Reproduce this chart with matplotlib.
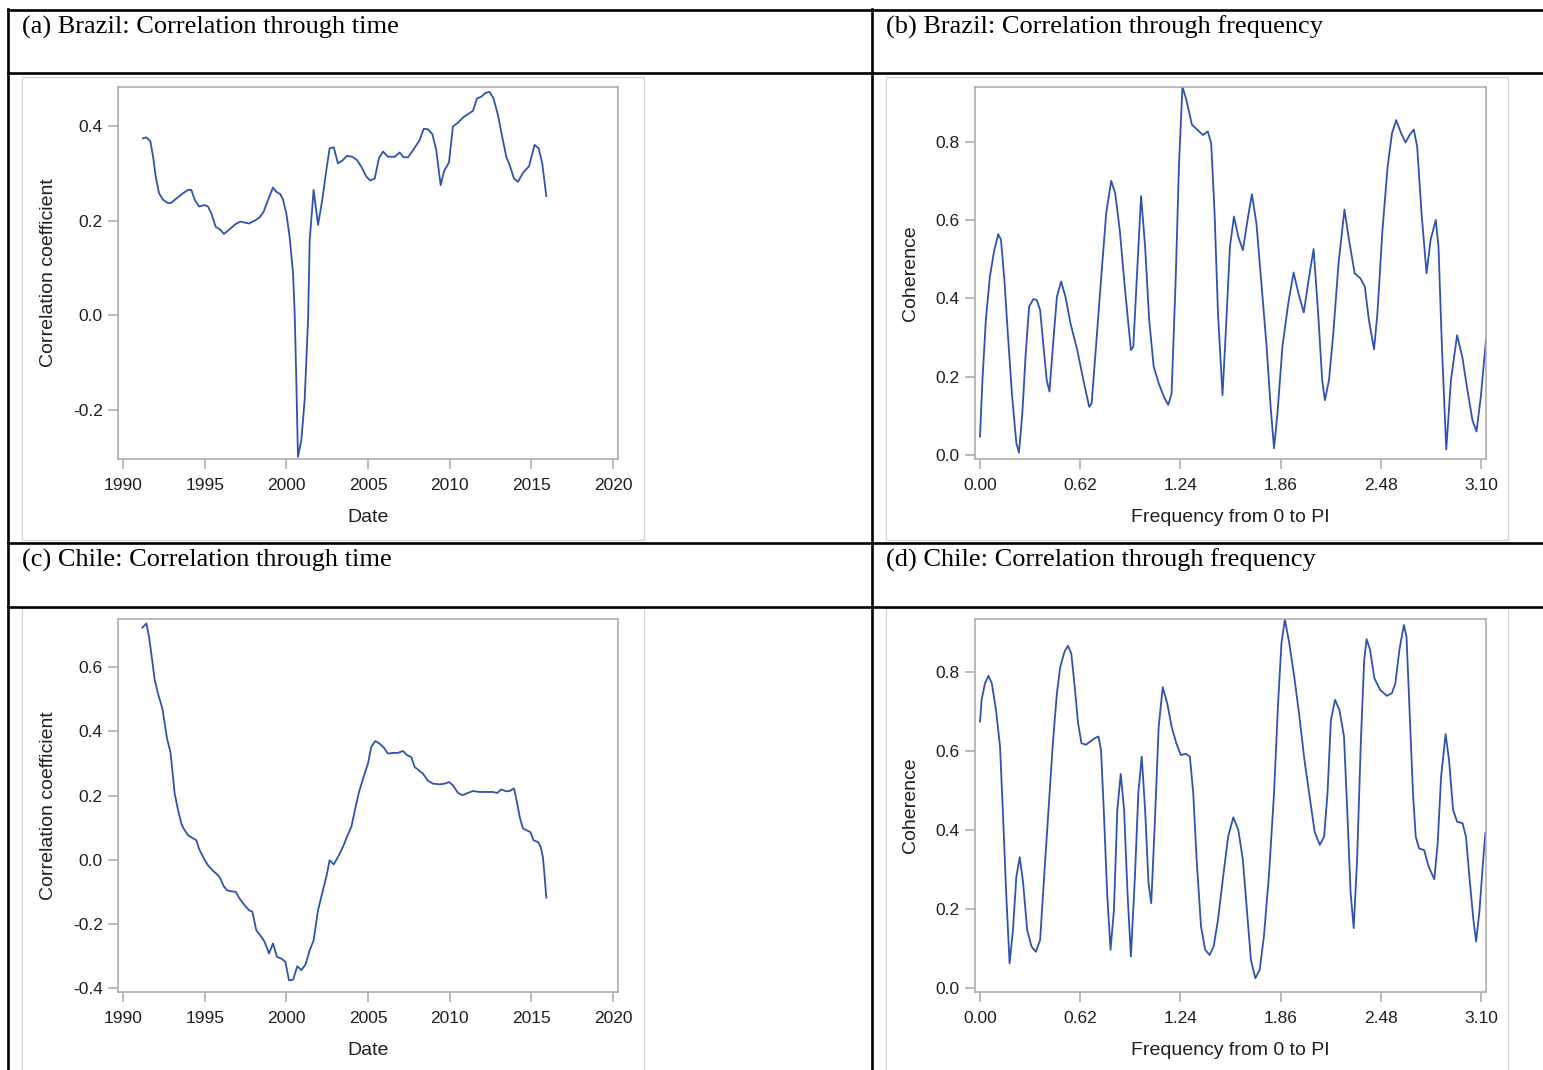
import matplotlib
matplotlib.use("Agg")
import matplotlib.pyplot as plt
from matplotlib.lines import Line2D
from matplotlib.patches import Rectangle

plt.rcParams["font.family"] = ["Liberation Sans", "DejaVu Sans"]
plt.rcParams["axes.unicode_minus"] = False

W, H = 1543, 1070

# (a) Brazil, correlation through time
brazil_year = [1991.22, 1991.43, 1991.67, 1991.84, 1992.00, 1992.20, 1992.45, 1992.76, 1992.96,
               1993.27, 1993.67, 1993.98, 1994.18, 1994.39, 1994.65, 1995.00, 1995.20, 1995.41,
               1995.67, 1995.92, 1996.18, 1996.53, 1996.90, 1997.18, 1997.45, 1997.71, 1998.06,
               1998.37, 1998.61, 1998.88, 1999.18, 1999.39, 1999.63, 1999.80, 2000.00, 2000.20,
               2000.41, 2000.51, 2000.61, 2000.71, 2000.92, 2001.12, 2001.33, 2001.43, 2001.67,
               2001.94, 2002.20, 2002.45, 2002.65, 2002.90, 2003.16, 2003.43, 2003.71, 2004.04,
               2004.33, 2004.59, 2004.90, 2005.14, 2005.41, 2005.67, 2005.92, 2006.22, 2006.63,
               2006.94, 2007.18, 2007.45, 2007.76, 2008.16, 2008.41, 2008.67, 2008.94, 2009.18,
               2009.45, 2009.65, 2009.96, 2010.20, 2010.51, 2010.82, 2011.12, 2011.43, 2011.67,
               2011.94, 2012.20, 2012.45, 2012.69, 2012.96, 2013.22, 2013.47, 2013.67, 2013.94,
               2014.18, 2014.49, 2014.86, 2015.20, 2015.45, 2015.67, 2015.92]
brazil_corr = [0.374, 0.376, 0.368, 0.335, 0.293, 0.258, 0.244, 0.237, 0.238,
               0.247, 0.258, 0.265, 0.265, 0.244, 0.230, 0.233, 0.230, 0.215,
               0.187, 0.182, 0.172, 0.182, 0.193, 0.198, 0.196, 0.194, 0.200,
               0.207, 0.219, 0.244, 0.270, 0.261, 0.256, 0.244, 0.215, 0.166,
               0.089, 0.004, -0.137, -0.299, -0.263, -0.179, -0.010, 0.159, 0.265,
               0.191, 0.244, 0.307, 0.353, 0.355, 0.321, 0.327, 0.337, 0.335,
               0.328, 0.314, 0.293, 0.285, 0.289, 0.332, 0.346, 0.335, 0.335,
               0.344, 0.334, 0.334, 0.349, 0.370, 0.394, 0.393, 0.383, 0.349,
               0.275, 0.304, 0.323, 0.399, 0.407, 0.418, 0.425, 0.432, 0.458,
               0.462, 0.470, 0.472, 0.458, 0.423, 0.377, 0.335, 0.318, 0.289,
               0.282, 0.301, 0.315, 0.360, 0.353, 0.321, 0.252]

# (b) Brazil, coherence
brazil_freq = [0.000, 0.015, 0.036, 0.061, 0.088, 0.113, 0.130, 0.151, 0.172, 0.199, 0.225, 0.241,
               0.262, 0.283, 0.304, 0.330, 0.351, 0.372, 0.393, 0.413, 0.430, 0.451, 0.476, 0.502,
               0.529, 0.560, 0.602, 0.644, 0.676, 0.691, 0.718, 0.749, 0.781, 0.812, 0.837, 0.865,
               0.896, 0.934, 0.949, 0.970, 0.997, 1.022, 1.047, 1.075, 1.106, 1.138, 1.165, 1.186,
               1.211, 1.232, 1.253, 1.278, 1.312, 1.347, 1.379, 1.410, 1.431, 1.452, 1.473, 1.501,
               1.522, 1.547, 1.572, 1.599, 1.627, 1.656, 1.683, 1.711, 1.740, 1.774, 1.799, 1.820,
               1.841, 1.872, 1.908, 1.941, 1.971, 2.004, 2.034, 2.065, 2.093, 2.118, 2.135, 2.160,
               2.187, 2.219, 2.256, 2.281, 2.319, 2.355, 2.382, 2.407, 2.439, 2.460, 2.491, 2.523,
               2.550, 2.576, 2.607, 2.634, 2.659, 2.685, 2.706, 2.733, 2.764, 2.789, 2.821, 2.838,
               2.859, 2.886, 2.915, 2.953, 2.985, 3.017, 3.048, 3.073, 3.100, 3.132]
brazil_coh = [0.047, 0.190, 0.345, 0.455, 0.523, 0.564, 0.549, 0.447, 0.311, 0.149, 0.030, 0.006,
              0.106, 0.260, 0.379, 0.398, 0.396, 0.370, 0.277, 0.191, 0.162, 0.277, 0.404, 0.443,
              0.404, 0.336, 0.268, 0.183, 0.123, 0.132, 0.277, 0.447, 0.617, 0.700, 0.668, 0.574,
              0.430, 0.268, 0.277, 0.447, 0.661, 0.532, 0.345, 0.226, 0.183, 0.149, 0.128, 0.157,
              0.447, 0.745, 0.940, 0.906, 0.843, 0.830, 0.817, 0.826, 0.796, 0.617, 0.362, 0.153,
              0.319, 0.532, 0.609, 0.557, 0.523, 0.600, 0.666, 0.591, 0.447, 0.277, 0.123, 0.017,
              0.106, 0.277, 0.387, 0.466, 0.413, 0.364, 0.447, 0.526, 0.362, 0.191, 0.140, 0.191,
              0.311, 0.489, 0.627, 0.557, 0.464, 0.451, 0.430, 0.345, 0.270, 0.362, 0.574, 0.736,
              0.821, 0.855, 0.821, 0.798, 0.817, 0.831, 0.787, 0.617, 0.464, 0.549, 0.600, 0.532,
              0.277, 0.014, 0.191, 0.306, 0.251, 0.166, 0.089, 0.060, 0.149, 0.294]

# (c) Chile, correlation through time
chile_year = [1991.18, 1991.43, 1991.59, 1991.73, 1991.94, 1992.14, 1992.41, 1992.55, 1992.69,
              1992.90, 1993.06, 1993.16, 1993.37, 1993.57, 1993.71, 1993.98, 1994.29, 1994.49,
              1994.65, 1994.90, 1995.20, 1995.51, 1995.82, 1995.96, 1996.16, 1996.37, 1996.63,
              1996.90, 1997.14, 1997.45, 1997.71, 1997.92, 1998.16, 1998.47, 1998.67, 1998.94,
              1999.18, 1999.43, 1999.69, 1999.94, 2000.16, 2000.41, 2000.67, 2000.92, 2001.18,
              2001.43, 2001.67, 2001.94, 2002.24, 2002.49, 2002.65, 2002.90, 2003.16, 2003.47,
              2003.71, 2003.98, 2004.24, 2004.45, 2004.73, 2005.00, 2005.20, 2005.45, 2005.71,
              2005.96, 2006.22, 2006.53, 2006.84, 2007.14, 2007.39, 2007.65, 2007.86, 2008.06,
              2008.37, 2008.67, 2008.98, 2009.39, 2009.69, 2009.96, 2010.20, 2010.51, 2010.78,
              2011.12, 2011.43, 2011.84, 2012.25, 2012.65, 2012.92, 2013.16, 2013.47, 2013.67,
              2013.94, 2014.12, 2014.29, 2014.49, 2014.69, 2014.94, 2015.14, 2015.41, 2015.57,
              2015.71, 2015.82, 2015.92]
chile_corr = [0.724, 0.737, 0.695, 0.643, 0.560, 0.518, 0.471, 0.425, 0.378,
              0.336, 0.258, 0.206, 0.154, 0.112, 0.097, 0.076, 0.066, 0.060,
              0.034, 0.008, -0.018, -0.035, -0.049, -0.059, -0.083, -0.096, -0.099,
              -0.101, -0.122, -0.143, -0.158, -0.163, -0.221, -0.241, -0.257, -0.293,
              -0.262, -0.304, -0.309, -0.319, -0.377, -0.375, -0.333, -0.345, -0.327,
              -0.283, -0.252, -0.158, -0.096, -0.044, -0.002, -0.015, 0.008, 0.040,
              0.071, 0.102, 0.164, 0.211, 0.258, 0.300, 0.352, 0.370, 0.362,
              0.350, 0.331, 0.333, 0.333, 0.339, 0.326, 0.320, 0.289, 0.281,
              0.268, 0.246, 0.237, 0.235, 0.237, 0.242, 0.232, 0.208, 0.201,
              0.208, 0.214, 0.211, 0.211, 0.211, 0.208, 0.219, 0.213, 0.214,
              0.222, 0.180, 0.133, 0.097, 0.092, 0.086, 0.060, 0.055, 0.040,
              0.008, -0.054, -0.119]

# (d) Chile, coherence
chile_freq = [0.000, 0.010, 0.031, 0.052, 0.073, 0.099, 0.124, 0.141, 0.162, 0.183, 0.204, 0.225,
              0.246, 0.267, 0.292, 0.319, 0.346, 0.372, 0.397, 0.424, 0.451, 0.476, 0.497, 0.523,
              0.544, 0.565, 0.586, 0.607, 0.628, 0.655, 0.682, 0.712, 0.733, 0.749, 0.766, 0.787,
              0.808, 0.829, 0.850, 0.871, 0.892, 0.913, 0.934, 0.959, 0.980, 1.001, 1.022, 1.043,
              1.060, 1.081, 1.106, 1.131, 1.159, 1.186, 1.215, 1.243, 1.274, 1.299, 1.320, 1.341,
              1.368, 1.394, 1.421, 1.446, 1.473, 1.505, 1.536, 1.568, 1.599, 1.627, 1.652, 1.677,
              1.704, 1.731, 1.757, 1.788, 1.820, 1.845, 1.866, 1.887, 1.914, 1.945, 1.977, 2.008,
              2.040, 2.071, 2.103, 2.130, 2.151, 2.172, 2.198, 2.225, 2.253, 2.273, 2.294, 2.313,
              2.334, 2.357, 2.378, 2.393, 2.414, 2.441, 2.477, 2.519, 2.550, 2.571, 2.596, 2.624,
              2.640, 2.659, 2.680, 2.697, 2.718, 2.749, 2.777, 2.812, 2.833, 2.854, 2.882, 2.903,
              2.928, 2.953, 2.987, 3.008, 3.029, 3.054, 3.071, 3.092, 3.113, 3.128]
chile_coh = [0.675, 0.730, 0.772, 0.791, 0.772, 0.704, 0.611, 0.451, 0.240, 0.062, 0.146, 0.282,
             0.331, 0.265, 0.146, 0.104, 0.091, 0.121, 0.282, 0.451, 0.620, 0.747, 0.814, 0.852,
             0.867, 0.848, 0.764, 0.671, 0.620, 0.616, 0.624, 0.633, 0.637, 0.603, 0.451, 0.240,
             0.096, 0.197, 0.451, 0.542, 0.451, 0.240, 0.079, 0.282, 0.493, 0.586, 0.451, 0.265,
             0.214, 0.408, 0.662, 0.762, 0.721, 0.662, 0.620, 0.590, 0.593, 0.586, 0.493, 0.324,
             0.155, 0.096, 0.083, 0.104, 0.172, 0.282, 0.383, 0.432, 0.400, 0.324, 0.197, 0.070,
             0.024, 0.045, 0.129, 0.282, 0.493, 0.721, 0.874, 0.934, 0.874, 0.789, 0.688, 0.578,
             0.485, 0.396, 0.362, 0.383, 0.493, 0.679, 0.730, 0.704, 0.637, 0.451, 0.240, 0.151,
             0.324, 0.620, 0.831, 0.884, 0.857, 0.785, 0.755, 0.740, 0.747, 0.772, 0.857, 0.920,
             0.890, 0.704, 0.493, 0.383, 0.353, 0.349, 0.307, 0.275, 0.366, 0.535, 0.643, 0.578,
             0.451, 0.421, 0.417, 0.383, 0.282, 0.172, 0.117, 0.197, 0.315, 0.392]

titles = ["(a) Brazil: Correlation through time",
          "(b) Brazil: Correlation through frequency",
          "(c) Chile: Correlation through time",
          "(d) Chile: Correlation through frequency"]

year_ticks = [1990, 1995, 2000, 2005, 2010, 2015, 2020]
freq_ticks = [0.00, 0.62, 1.24, 1.86, 2.48, 3.10]
freq_labels = ["0.00", "0.62", "1.24", "1.86", "2.48", "3.10"]

LINE = "#2f53ae"
AXC = "#a8a8a8"

fig = plt.figure(figsize=(W / 100, H / 100), dpi=100)
fig.patch.set_facecolor("white")


def fx(x):
    return x / W


def fy(y):
    return 1 - y / H


def add_ax(x0, y0, x1, y1):
    return fig.add_axes([fx(x0), fy(y1), (x1 - x0) / W, (y1 - y0) / H])


def box(x0, y0, x1, y1):
    fig.add_artist(Rectangle((fx(x0), fy(y1)), (x1 - x0) / W, (y1 - y0) / H,
                             transform=fig.transFigure, fill=False, ec="#d6d6d6", lw=0.9))


def rule(xs, ys):
    fig.add_artist(Line2D([fx(x) for x in xs], [fy(y) for y in ys],
                          transform=fig.transFigure, color="black", lw=1.9))


# table rules
rule([8, W], [10, 10])
rule([8, W], [73, 73])
rule([8, W], [543, 543])
rule([8, W], [606.5, 606.5])
rule([8, 8], [9, H])
rule([872, 872], [9, H])

# picture frames
box(22, 77, 644, 540)
box(886, 77, 1508, 540)
box(22, 608, 644, 1075)
box(886, 608, 1508, 1075)

for (tx, ty), t in zip([(22, 33.5), (886, 33.5), (22, 567), (886, 567)], titles):
    fig.text(fx(tx), fy(ty), t, ha="left", va="baseline", fontsize=19,
             family=["Liberation Serif", "DejaVu Serif"], color="black")


def style(ax):
    for s in ax.spines.values():
        s.set_color(AXC)
        s.set_linewidth(1.1)
    ax.tick_params(axis="both", direction="out", length=7, width=1.1, color=AXC,
                   labelsize=12.5, labelcolor="#1f1f1f")
    ax.tick_params(axis="x", pad=7)
    ax.tick_params(axis="y", pad=4)


# (a)
ax = add_ax(118, 87, 618, 459)
ax.plot(brazil_year, brazil_corr, color=LINE, lw=1.3)
ax.set_xlim(1989.69, 2020.31)
ax.set_ylim(-0.3035, 0.4824)
ax.set_xticks(year_ticks)
ax.set_yticks([-0.2, 0.0, 0.2, 0.4])
ax.set_yticklabels(["-0.2", "0.0", "0.2", "0.4"])
ax.set_xlabel("Date", fontsize=14, color="#1f1f1f")
ax.set_ylabel("Correlation coefficient", fontsize=14, color="#1f1f1f")
ax.xaxis.set_label_coords(0.5, -0.134)
ax.yaxis.set_label_coords(-0.122, 0.5)
style(ax)

# (b)
ax = add_ax(975, 87, 1486, 459)
ax.plot(brazil_freq, brazil_coh, color=LINE, lw=1.3)
ax.set_xlim(-0.031, 3.132)
ax.set_ylim(-0.0102, 0.9396)
ax.set_xticks(freq_ticks)
ax.set_xticklabels(freq_labels)
ax.set_yticks([0.0, 0.2, 0.4, 0.6, 0.8])
ax.set_yticklabels(["0.0", "0.2", "0.4", "0.6", "0.8"])
ax.set_xlabel("Frequency from 0 to PI", fontsize=14, color="#1f1f1f")
ax.set_ylabel("Coherence", fontsize=14, color="#1f1f1f")
ax.xaxis.set_label_coords(0.5, -0.134)
ax.yaxis.set_label_coords(-0.109, 0.5)
style(ax)

# (c)
ax = add_ax(118, 619, 618, 992)
ax.plot(chile_year, chile_corr, color=LINE, lw=1.3)
ax.set_xlim(1989.69, 2020.31)
ax.set_ylim(-0.4134, 0.751)
ax.set_xticks(year_ticks)
ax.set_yticks([-0.4, -0.2, 0.0, 0.2, 0.4, 0.6])
ax.set_yticklabels(["-0.4", "-0.2", "0.0", "0.2", "0.4", "0.6"])
ax.set_xlabel("Date", fontsize=14, color="#1f1f1f")
ax.set_ylabel("Correlation coefficient", fontsize=14, color="#1f1f1f")
ax.xaxis.set_label_coords(0.5, -0.134)
ax.yaxis.set_label_coords(-0.122, 0.5)
style(ax)

# (d)
ax = add_ax(975, 619, 1486, 992)
ax.plot(chile_freq, chile_coh, color=LINE, lw=1.3)
ax.set_xlim(-0.031, 3.132)
ax.set_ylim(-0.011, 0.935)
ax.set_xticks(freq_ticks)
ax.set_xticklabels(freq_labels)
ax.set_yticks([0.0, 0.2, 0.4, 0.6, 0.8])
ax.set_yticklabels(["0.0", "0.2", "0.4", "0.6", "0.8"])
ax.set_xlabel("Frequency from 0 to PI", fontsize=14, color="#1f1f1f")
ax.set_ylabel("Coherence", fontsize=14, color="#1f1f1f")
ax.xaxis.set_label_coords(0.5, -0.134)
ax.yaxis.set_label_coords(-0.109, 0.5)
style(ax)

fig.savefig("out.png", dpi=100)
